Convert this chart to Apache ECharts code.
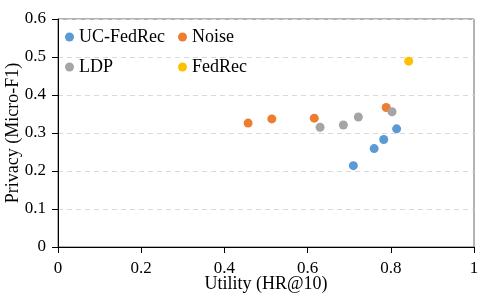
<!DOCTYPE html>
<html>
<head>
<meta charset="utf-8">
<script src="https://cdn.jsdelivr.net/npm/echarts@6/dist/echarts.min.js"></script>
<style>html,body{margin:0;padding:0;background:#fff}#c{width:498px;height:297px}</style>
</head>
<body>
<div id="c"></div>
<script>
const seriesNames = ['UC-FedRec', 'Noise', 'LDP', 'FedRec'];
const ucFedRec = [[0.710, 0.214], [0.760, 0.259], [0.783, 0.283], [0.814, 0.311]];
const noise = [[0.457, 0.326], [0.514, 0.337], [0.616, 0.339], [0.789, 0.367]];
const ldp = [[0.630, 0.315], [0.686, 0.321], [0.722, 0.342], [0.803, 0.356]];
const fedRec = [[0.843, 0.489]];
const colors = ['#5B9BD5', '#ED7D31', '#A5A5A5', '#FFC000'];
const xTitle = 'Utility (HR@10)';
const yTitle = 'Privacy (Micro-F1)';

const font = 'Liberation Serif';
const chart = echarts.init(document.getElementById('c'), null, {renderer: 'canvas'});
const data = [ucFedRec, noise, ldp, fedRec];
const legendCommon = {
  orient: 'vertical', itemWidth: 9, itemHeight: 9, itemGap: 12,
  icon: 'circle',
  textStyle: {fontFamily: font, fontSize: 18, color: '#000'}
};
chart.setOption({
  animation: false,
  color: colors,
  textStyle: {fontFamily: font},
  legend: [
    Object.assign({}, legendCommon, {data: [seriesNames[0], seriesNames[2]], left: 60, top: 23}),
    Object.assign({}, legendCommon, {data: [seriesNames[1], seriesNames[3]], left: 173, top: 23})
  ],
  grid: {left: 58, right: 24, top: 19, bottom: 50, show: true, borderColor: '#666', borderWidth: 1, outerBoundsMode: 'none', containLabel: false},
  xAxis: {
    type: 'value', min: 0, max: 1, interval: 0.2,
    name: xTitle, nameLocation: 'middle', nameGap: 28, nameMoveOverlap: false,
    nameTextStyle: {fontFamily: font, fontSize: 18, color: '#000'},
    axisLine: {show: true, lineStyle: {color: '#000', width: 1}},
    axisTick: {show: true, length: 6, lineStyle: {color: '#000'}},
    axisLabel: {fontFamily: font, fontSize: 17, color: '#000', margin: 13},
    splitLine: {show: false}
  },
  yAxis: {
    type: 'value', min: 0, max: 0.6, interval: 0.1,
    name: yTitle, nameLocation: 'middle', nameGap: 36, nameMoveOverlap: false,
    nameTextStyle: {fontFamily: font, fontSize: 18, color: '#000'},
    axisLine: {show: true, lineStyle: {color: '#000', width: 1}},
    axisTick: {show: true, length: 6, lineStyle: {color: '#000'}},
    axisLabel: {fontFamily: font, fontSize: 17, color: '#000', margin: 12},
    splitLine: {show: true, lineStyle: {color: '#d9d9d9', type: [5, 4], width: 1}}
  },
  series: seriesNames.map((n, i) => ({
    name: n, type: 'scatter', data: data[i], symbolSize: 9,
    itemStyle: {color: colors[i], opacity: 1}
  }))
});
</script>
</body>
</html>
